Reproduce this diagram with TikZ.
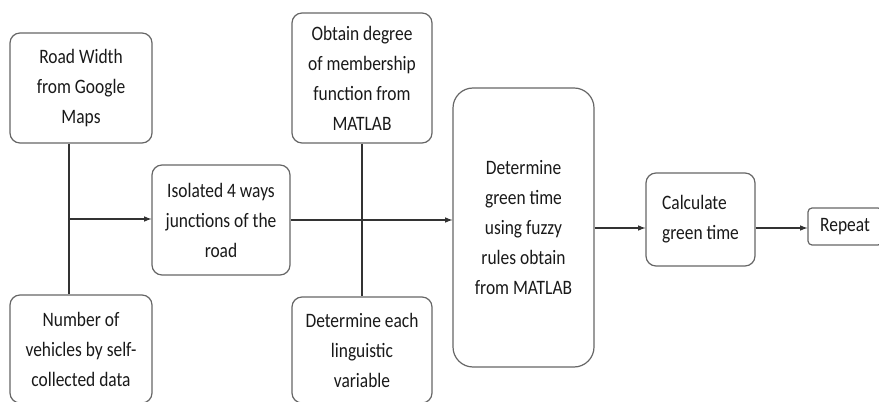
\documentclass[tikz,border=0pt]{standalone}
\usepackage{fontspec}
\setmainfont{Carlito}[FakeStretch=0.85]
\begin{document}
\begin{tikzpicture}[>=latex,line join=bevel,
  stepbox/.style={draw=black!60,line width=1.2bp,rounded corners=10bp,align=center,inner sep=0pt,
    font=\fontsize{20.5bp}{30bp}\selectfont,text=black!90}]
  \pgfsetlinewidth{1.5bp}
  \useasboundingbox (0bp,0bp) rectangle (879bp,402bp);
%%
  % Node: Road
  \node [stepbox,minimum width=142bp,minimum height=110bp] (Road) at (81bp,314bp) {Road Width\\from Google\\Maps};
  % Node: Vehicles
  \node [stepbox,minimum width=142bp,minimum height=108bp] (Vehicles) at (81bp,53bp) {Number of\\vehicles by self-\\collected data};
  % Node: Junction
  \node [stepbox,minimum width=138bp,minimum height=110bp] (Junction) at (221bp,182bp) {Isolated 4 ways\\junctions of the\\road};
  % Node: Degree
  \node [stepbox,minimum width=140bp,minimum height=130bp] (Degree) at (362bp,324bp) {Obtain degree\\of membership\\function from\\MATLAB};
  % Node: Linguistic
  \node [stepbox,minimum width=140bp,minimum height=106bp] (Linguistic) at (362bp,52bp) {Determine each\\linguistic\\variable};
  % Node: Fuzzy
  \node [stepbox,rounded corners=20bp,minimum width=141bp,minimum height=279bp] (Fuzzy) at (523.5bp,174.5bp) {Determine\\green time\\using fuzzy\\rules obtain\\from MATLAB};
  % Node: Calc
  \node [stepbox,align=left,minimum width=109bp,minimum height=93bp] (Calc) at (700.5bp,182.5bp) {Calculate\\green time};
  % Node: Repeat
  \node [stepbox,rounded corners=4bp,minimum width=74bp,minimum height=37bp] (Repeat) at (845bp,175.5bp) {Repeat};
%
  \pgfsetcolor{black!80}
  \coordinate (Fork) at (69bp,183bp);
  \coordinate (Out) at (0bp,174bp);
  % Edge: Road -> Vehicles
  \draw (Road.south -| Fork) -- (Vehicles.north -| Fork);
  % Edge: Fork -> Junction
  \draw [->] (Fork) -- (Junction.west |- Fork);
  % Edge: Degree -> Linguistic
  \draw (Degree.south) -- (Linguistic.north);
  % Edge: Junction -> Fuzzy
  \draw [->] (Junction.east) -- (Fuzzy.west |- Junction.east);
  % Edge: Fuzzy -> Calc
  \draw [->] (Fuzzy.east |- Out) -- (Calc.west |- Out);
  % Edge: Calc -> Repeat
  \draw [->] (Calc.east |- Out) -- (Repeat.west |- Out);
%
\end{tikzpicture}
\end{document}
